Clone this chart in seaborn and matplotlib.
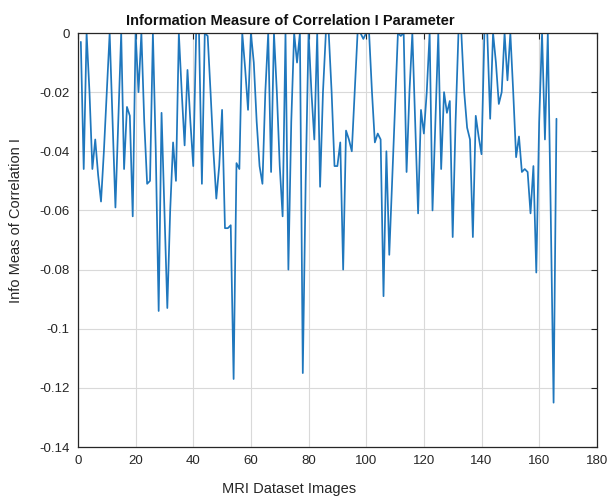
import matplotlib
matplotlib.use("Agg")
import matplotlib.pyplot as plt
import seaborn as sns
import pandas as pd
import numpy as np

title = "Information Measure of Correlation I Parameter"
xlabel = "MRI Dataset Images"
ylabel = "Info Meas of Correlation I"

values = [
    -0.003, -0.046, 0.0, -0.020, -0.046, -0.036, -0.048, -0.057, -0.040, -0.020,
    0.0, -0.030, -0.059, -0.030, 0.0, -0.046, -0.025, -0.028, -0.062, 0.0,
    -0.020, 0.0, -0.030, -0.051, -0.050, 0.0, -0.040, -0.094, -0.027, -0.060,
    -0.093, -0.060, -0.037, -0.050, 0.0, -0.020, -0.038, -0.0125, -0.030, -0.045,
    0.0, 0.0, -0.051, 0.0, -0.001, -0.020, -0.040, -0.056, -0.045, -0.026,
    -0.066, -0.066, -0.065, -0.117, -0.044, -0.046, 0.0, -0.012, -0.026, 0.0,
    -0.010, -0.030, -0.045, -0.051, -0.020, 0.0, -0.047, 0.0, -0.020, -0.045,
    -0.062, 0.0, -0.080, -0.030, 0.0, -0.010, 0.0, -0.115, -0.050, 0.0,
    -0.020, -0.036, 0.0, -0.052, -0.020, 0.0, 0.0, -0.020, -0.045, -0.045,
    -0.037, -0.080, -0.033, -0.036, -0.040, -0.020, 0.0, 0.0, -0.002, 0.0,
    0.0, -0.020, -0.037, -0.034, -0.036, -0.089, -0.040, -0.075, -0.050, -0.025,
    0.0, -0.001, 0.0, -0.047, -0.020, 0.0, -0.030, -0.061, -0.026, -0.034,
    -0.020, 0.0, -0.060, -0.030, 0.0, -0.046, -0.020, -0.027, -0.023, -0.069,
    -0.030, 0.0, 0.0, -0.020, -0.032, -0.036, -0.069, -0.028, -0.035, -0.041,
    0.0, 0.0, -0.029, 0.0, -0.010, -0.024, -0.020, 0.0, -0.016, 0.0,
    -0.020, -0.042, -0.035, -0.047, -0.046, -0.047, -0.061, -0.045, -0.081, -0.030,
    0.0, -0.036, 0.0, -0.060, -0.125, -0.029,
]
images = list(range(1, len(values) + 1))

xticks = [0, 20, 40, 60, 80, 100, 120, 140, 160, 180]
yticks = [0, -0.02, -0.04, -0.06, -0.08, -0.1, -0.12, -0.14]
ytick_labels = ["0", "-0.02", "-0.04", "-0.06", "-0.08", "-0.1", "-0.12", "-0.14"]

df = pd.DataFrame({"img": images, "val": values})

sns.set_style("white")
plt.rcParams["font.family"] = ["Liberation Sans", "DejaVu Sans"]

fig = plt.figure(figsize=(6.09, 4.97), dpi=100)
ax = fig.add_axes([0.128, 0.1006, 0.852, 0.833])

sns.lineplot(data=df, x="img", y="val", ax=ax, color="#1f77bd", linewidth=1.25)

ax.set_xlim(0, 180)
ax.set_ylim(-0.14, 0)
ax.set_xticks(xticks)
ax.set_xticklabels([str(t) for t in xticks])
ax.set_yticks(yticks)
ax.set_yticklabels(ytick_labels)
ax.grid(True, color="#d9d9d9", linewidth=0.8)
ax.tick_params(direction="in", top=True, right=True, length=4, width=0.8,
               labelsize=9.5, colors="#262626", pad=6)
for s in ax.spines.values():
    s.set_visible(True)
    s.set_color("#262626")
    s.set_linewidth(0.9)

ax.set_xlabel(xlabel, fontsize=10.5, color="#262626", labelpad=4)
ax.xaxis.set_label_coords(0.407, -0.085)
ax.set_ylabel(ylabel, fontsize=10.5, color="#262626", labelpad=4)
ax.yaxis.set_label_coords(-0.105, 0.546)
ax.set_title(title, fontsize=10.5, fontweight="bold", color="#111111", x=0.41, pad=6)

fig.savefig("out.png", dpi=100)
